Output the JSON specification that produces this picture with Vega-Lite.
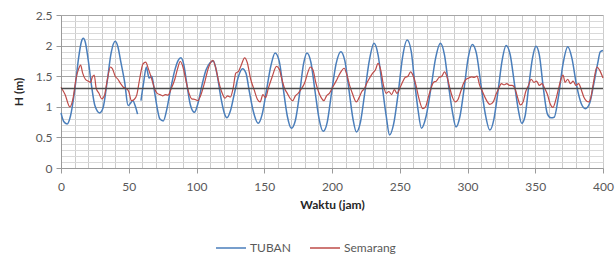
{
  "$schema": "https://vega.github.io/schema/vega-lite/v6.json",
  "width": 542,
  "height": 153,
  "autosize": {"type": "none"},
  "padding": {"left": 61, "top": 15, "right": 13, "bottom": 89},
  "config": {
    "font": "Lato",
    "view": {"stroke": null},
    "axis": {
      "labelFont": "Lato",
      "labelFontSize": 12,
      "labelColor": "#595959",
      "titleFont": "Lato",
      "titleFontSize": 12,
      "titleFontWeight": "bold",
      "titleColor": "#262626",
      "domainColor": "#9a9a9a",
      "labelOverlap": false,
      "labelFlush": false
    }
  },
  "datasets": {
    "tuban": [
      {"t":0,"H":0.90},{"t":2,"H":0.76},{"t":4.5,"H":0.72},{"t":7,"H":0.85},{"t":10,"H":1.25},{"t":13,"H":1.80},{"t":15,"H":2.06},{"t":16.5,"H":2.12},{"t":18,"H":2.05},{"t":20,"H":1.78},{"t":22.5,"H":1.35},{"t":25,"H":1.02},{"t":28.5,"H":0.90},{"t":31,"H":0.98},{"t":34,"H":1.40},{"t":37,"H":1.88},{"t":40,"H":2.07},{"t":42,"H":1.98},{"t":44,"H":1.75},{"t":47,"H":1.40},{"t":49.5,"H":1.02},{"t":51,"H":1.05},{"t":53,"H":1.10},{"t":55,"H":1.00},{"t":56.5,"H":0.88},{"t":58,"H":null},
      {"t":59,"H":1.10},{"t":61,"H":1.40},{"t":63,"H":1.65},{"t":65,"H":1.47},{"t":67,"H":1.50},{"t":69,"H":1.25},{"t":71,"H":0.98},{"t":73,"H":0.80},{"t":75.5,"H":0.77},{"t":78,"H":0.95},{"t":81,"H":1.30},{"t":84,"H":1.60},{"t":86.5,"H":1.76},{"t":88.5,"H":1.80},{"t":90.5,"H":1.70},{"t":93,"H":1.35},{"t":95.5,"H":1.03},{"t":98.5,"H":0.91},
      {"t":101,"H":1.05},{"t":104,"H":1.35},{"t":107,"H":1.60},{"t":110,"H":1.72},{"t":112.5,"H":1.75},{"t":115,"H":1.55},{"t":118,"H":1.15},{"t":120.5,"H":0.90},{"t":122.5,"H":0.82},{"t":125,"H":0.93},{"t":128,"H":1.22},{"t":131,"H":1.50},{"t":134,"H":1.62},{"t":136.5,"H":1.55},{"t":139,"H":1.25},{"t":142,"H":0.92},{"t":145.5,"H":0.73},{"t":148.5,"H":0.88},
      {"t":151.5,"H":1.25},{"t":155,"H":1.68},{"t":158,"H":1.88},{"t":161,"H":1.75},{"t":164,"H":1.30},{"t":167,"H":0.85},{"t":170,"H":0.65},{"t":173,"H":0.78},{"t":176,"H":1.20},{"t":179,"H":1.70},{"t":181.5,"H":1.88},{"t":184.5,"H":1.72},{"t":187.5,"H":1.25},{"t":190.5,"H":0.80},{"t":193.5,"H":0.60},{"t":196.5,"H":0.75},{"t":199.5,"H":1.20},
      {"t":203,"H":1.70},{"t":206.5,"H":1.90},{"t":209.5,"H":1.75},{"t":212.5,"H":1.28},{"t":215.5,"H":0.80},{"t":218,"H":0.59},{"t":221,"H":0.75},{"t":224,"H":1.20},{"t":227.5,"H":1.75},{"t":231,"H":2.04},{"t":234,"H":1.85},{"t":237,"H":1.35},{"t":240,"H":0.85},{"t":242.5,"H":0.54},{"t":245.5,"H":0.72},{"t":249,"H":1.25},
      {"t":252,"H":1.80},{"t":255.5,"H":2.09},{"t":258.5,"H":1.90},{"t":261,"H":1.40},{"t":263.5,"H":0.95},{"t":266,"H":0.65},{"t":269.5,"H":0.85},{"t":273,"H":1.30},{"t":276.5,"H":1.80},{"t":280,"H":2.04},{"t":283,"H":1.85},{"t":286,"H":1.35},{"t":289,"H":0.90},{"t":291.5,"H":0.67},{"t":294.5,"H":0.85},{"t":297.5,"H":1.30},
      {"t":300.5,"H":1.80},{"t":303.5,"H":2.02},{"t":306.5,"H":1.88},{"t":310,"H":1.35},{"t":313,"H":0.90},{"t":316.5,"H":0.62},{"t":319.5,"H":0.80},{"t":322.5,"H":1.25},{"t":325.5,"H":1.75},{"t":328.5,"H":2.00},{"t":331.5,"H":1.85},{"t":334.5,"H":1.40},{"t":337.5,"H":0.95},{"t":340,"H":0.73},{"t":342.5,"H":0.85},{"t":345,"H":1.30},{"t":348,"H":1.80},
      {"t":350.5,"H":1.99},{"t":353,"H":1.85},{"t":356,"H":1.30},{"t":359,"H":0.88},{"t":361.5,"H":0.82},{"t":364,"H":0.83},{"t":367,"H":1.15},{"t":370.5,"H":1.70},{"t":374,"H":1.98},{"t":377,"H":1.80},{"t":380.5,"H":1.35},{"t":384,"H":1.05},{"t":387,"H":0.97},{"t":390,"H":1.05},{"t":393,"H":1.35},{"t":396,"H":1.70},{"t":398,"H":1.90},{"t":400,"H":1.92}
    ],
    "semarang": [
      {"t":0,"H":1.32},{"t":3,"H":1.20},{"t":6.5,"H":1.00},{"t":9,"H":1.15},{"t":11,"H":1.45},{"t":13,"H":1.62},{"t":14.5,"H":1.68},{"t":16,"H":1.55},{"t":18,"H":1.45},{"t":20,"H":1.42},{"t":22,"H":1.40},{"t":23,"H":1.48},{"t":24.5,"H":1.52},{"t":26,"H":1.30},{"t":28,"H":1.22},{"t":30,"H":1.13},{"t":32,"H":1.18},{"t":34,"H":1.42},{"t":36.5,"H":1.65},{"t":38,"H":1.62},{"t":40,"H":1.50},{"t":42,"H":1.45},{"t":44,"H":1.38},{"t":46,"H":1.32},{"t":48,"H":1.30},{"t":50,"H":1.25},
      {"t":52,"H":1.10},{"t":54,"H":1.12},{"t":56,"H":1.20},{"t":58,"H":1.45},{"t":60.5,"H":1.70},{"t":62.5,"H":1.73},{"t":64.5,"H":1.62},{"t":67,"H":1.45},{"t":69,"H":1.30},{"t":71,"H":1.22},{"t":73,"H":1.20},{"t":75,"H":1.18},{"t":77,"H":1.20},{"t":79,"H":1.19},{"t":81,"H":1.28},{"t":84,"H":1.45},{"t":86,"H":1.62},{"t":88,"H":1.74},{"t":90,"H":1.65},{"t":92,"H":1.45},{"t":94.5,"H":1.22},{"t":96.5,"H":1.13},{"t":99,"H":1.12},
      {"t":101,"H":1.10},{"t":103,"H":1.18},{"t":106,"H":1.40},{"t":109,"H":1.65},{"t":112,"H":1.76},{"t":114,"H":1.65},{"t":116.5,"H":1.40},{"t":119,"H":1.22},{"t":121,"H":1.14},{"t":123,"H":1.18},{"t":125,"H":1.16},{"t":127,"H":1.30},{"t":129,"H":1.55},{"t":131,"H":1.58},{"t":133,"H":1.68},{"t":135.5,"H":1.80},{"t":137.5,"H":1.72},{"t":140,"H":1.45},{"t":142.5,"H":1.28},{"t":145,"H":1.12},{"t":147,"H":1.08},{"t":149,"H":1.20},
      {"t":151,"H":1.15},{"t":153,"H":1.30},{"t":156,"H":1.50},{"t":159,"H":1.66},{"t":161,"H":1.62},{"t":163,"H":1.45},{"t":165,"H":1.30},{"t":167,"H":1.22},{"t":169,"H":1.14},{"t":171,"H":1.10},{"t":173,"H":1.18},{"t":175,"H":1.22},{"t":177,"H":1.28},{"t":180,"H":1.40},{"t":182,"H":1.55},{"t":184,"H":1.65},{"t":186,"H":1.60},{"t":188,"H":1.40},{"t":190,"H":1.25},{"t":192,"H":1.15},{"t":194,"H":1.10},{"t":196,"H":1.18},{"t":198,"H":1.22},
      {"t":200,"H":1.30},{"t":203,"H":1.42},{"t":206,"H":1.55},{"t":209,"H":1.63},{"t":211,"H":1.52},{"t":213,"H":1.35},{"t":215,"H":1.22},{"t":218,"H":1.08},{"t":220,"H":1.15},{"t":222,"H":1.25},{"t":224,"H":1.30},{"t":226,"H":1.40},{"t":228,"H":1.48},{"t":230,"H":1.55},{"t":232,"H":1.60},{"t":234,"H":1.71},{"t":236,"H":1.60},{"t":238,"H":1.35},{"t":240,"H":1.22},{"t":242,"H":1.25},{"t":244,"H":1.20},{"t":246,"H":1.28},{"t":248,"H":1.22},
      {"t":250,"H":1.30},{"t":252,"H":1.40},{"t":254,"H":1.48},{"t":256,"H":1.50},{"t":258,"H":1.57},{"t":260,"H":1.50},{"t":262,"H":1.35},{"t":264,"H":1.15},{"t":267,"H":0.97},{"t":269,"H":1.00},{"t":271,"H":1.15},{"t":273,"H":1.30},{"t":275,"H":1.40},{"t":277,"H":1.42},{"t":279,"H":1.48},{"t":281,"H":1.50},{"t":283,"H":1.57},{"t":285,"H":1.48},{"t":287,"H":1.30},{"t":289,"H":1.15},{"t":291,"H":1.08},{"t":293,"H":1.12},{"t":295,"H":1.25},{"t":297,"H":1.38},{"t":299,"H":1.45},
      {"t":301,"H":1.47},{"t":303,"H":1.49},{"t":305,"H":1.48},{"t":307,"H":1.50},{"t":309,"H":1.35},{"t":311,"H":1.25},{"t":313,"H":1.15},{"t":316.5,"H":1.04},{"t":319,"H":1.08},{"t":321,"H":1.20},{"t":323,"H":1.30},{"t":325,"H":1.38},{"t":327,"H":1.36},{"t":329,"H":1.38},{"t":331,"H":1.35},{"t":333,"H":1.35},{"t":335,"H":1.30},{"t":337,"H":1.15},{"t":339,"H":1.03},{"t":341,"H":1.08},{"t":343,"H":1.25},{"t":345,"H":1.35},{"t":347,"H":1.45},{"t":349,"H":1.40},
      {"t":351,"H":1.42},{"t":353,"H":1.35},{"t":355,"H":1.38},{"t":357,"H":1.30},{"t":359,"H":1.20},{"t":361,"H":1.05},{"t":363,"H":0.99},{"t":365,"H":1.10},{"t":367,"H":1.28},{"t":369,"H":1.45},{"t":370.5,"H":1.52},{"t":372,"H":1.40},{"t":374,"H":1.45},{"t":376,"H":1.38},{"t":378,"H":1.42},{"t":380,"H":1.35},{"t":382,"H":1.38},{"t":384,"H":1.28},{"t":386,"H":1.15},{"t":388,"H":1.09},{"t":389.5,"H":1.08},{"t":391,"H":1.15},{"t":393,"H":1.40},{"t":395.5,"H":1.65},{"t":397.5,"H":1.60},{"t":400,"H":1.47}
    ],
    "ref": [{"t": 0, "H": 1.3}, {"t": 400, "H": 1.3}]
  },
  "encoding": {
    "x": {
      "field": "t", "type": "quantitative",
      "scale": {"domain": [0, 400], "nice": false, "zero": false},
      "axis": {
        "title": "Waktu (jam)",
        "values": [0,10,20,30,40,50,60,70,80,90,100,110,120,130,140,150,160,170,180,190,200,210,220,230,240,250,260,270,280,290,300,310,320,330,340,350,360,370,380,390,400],
        "labelExpr": "datum.value % 50 === 0 ? '' + datum.value : ''",
        "grid": true,
        "gridColor": "#cccccc",
        "gridWidth": 1,
        "tickSize": 5,
        "tickColor": {"condition": {"test": "datum.value % 50 === 0", "value": "#9a9a9a"}, "value": "transparent"},
        "labelPadding": 8,
        "titlePadding": 7
      }
    },
    "y": {
      "field": "H", "type": "quantitative",
      "scale": {"domain": [0, 2.5], "nice": false},
      "axis": {
        "title": "H (m)",
        "values": [0,0.1,0.2,0.3,0.4,0.5,0.6,0.7,0.8,0.9,1,1.1,1.2,1.3,1.4,1.5,1.6,1.7,1.8,1.9,2,2.1,2.2,2.3,2.4,2.5],
        "labelExpr": "abs(datum.value*2 - round(datum.value*2)) < 0.001 ? '' + datum.value : ''",
        "grid": true,
        "gridColor": {"condition": {"test": "abs(datum.value*2 - round(datum.value*2)) < 0.001", "value": "#a6a6a6"}, "value": "#d9d9d9"},
        "tickSize": 5,
        "tickColor": {"condition": {"test": "abs(datum.value*2 - round(datum.value*2)) < 0.001", "value": "#9a9a9a"}, "value": "transparent"},
        "labelPadding": 4,
        "titlePadding": 10
      }
    }
  },
  "layer": [
    {
      "data": {"name": "tuban"},
      "mark": {"type": "line", "strokeWidth": 1.5, "interpolate": "monotone", "invalid": "break-paths-show-domains"},
      "encoding": {
        "color": {
          "datum": "TUBAN", "type": "nominal",
          "scale": {"domain": ["TUBAN", "Semarang"], "range": ["#4A7EBB", "#BE4B48"]},
          "legend": {
            "title": null,
            "orient": "none",
            "direction": "horizontal",
            "legendX": 154,
            "legendY": 217,
            "padding": 0,
            "symbolType": "stroke",
            "symbolSize": 900,
            "symbolStrokeWidth": 1.5,
            "labelFont": "Lato",
            "labelFontSize": 12,
            "labelColor": "#595959",
            "labelOffset": 3,
            "columnPadding": 16
          }
        }
      }
    },
    {
      "data": {"name": "semarang"},
      "mark": {"type": "line", "strokeWidth": 1.2, "interpolate": "monotone"},
      "encoding": {
        "color": {"datum": "Semarang", "type": "nominal"}
      }
    },
    {
      "data": {"name": "ref"},
      "mark": {"type": "line", "color": "#4d4d4d", "strokeWidth": 1.5},
      "encoding": {}
    }
  ]
}
